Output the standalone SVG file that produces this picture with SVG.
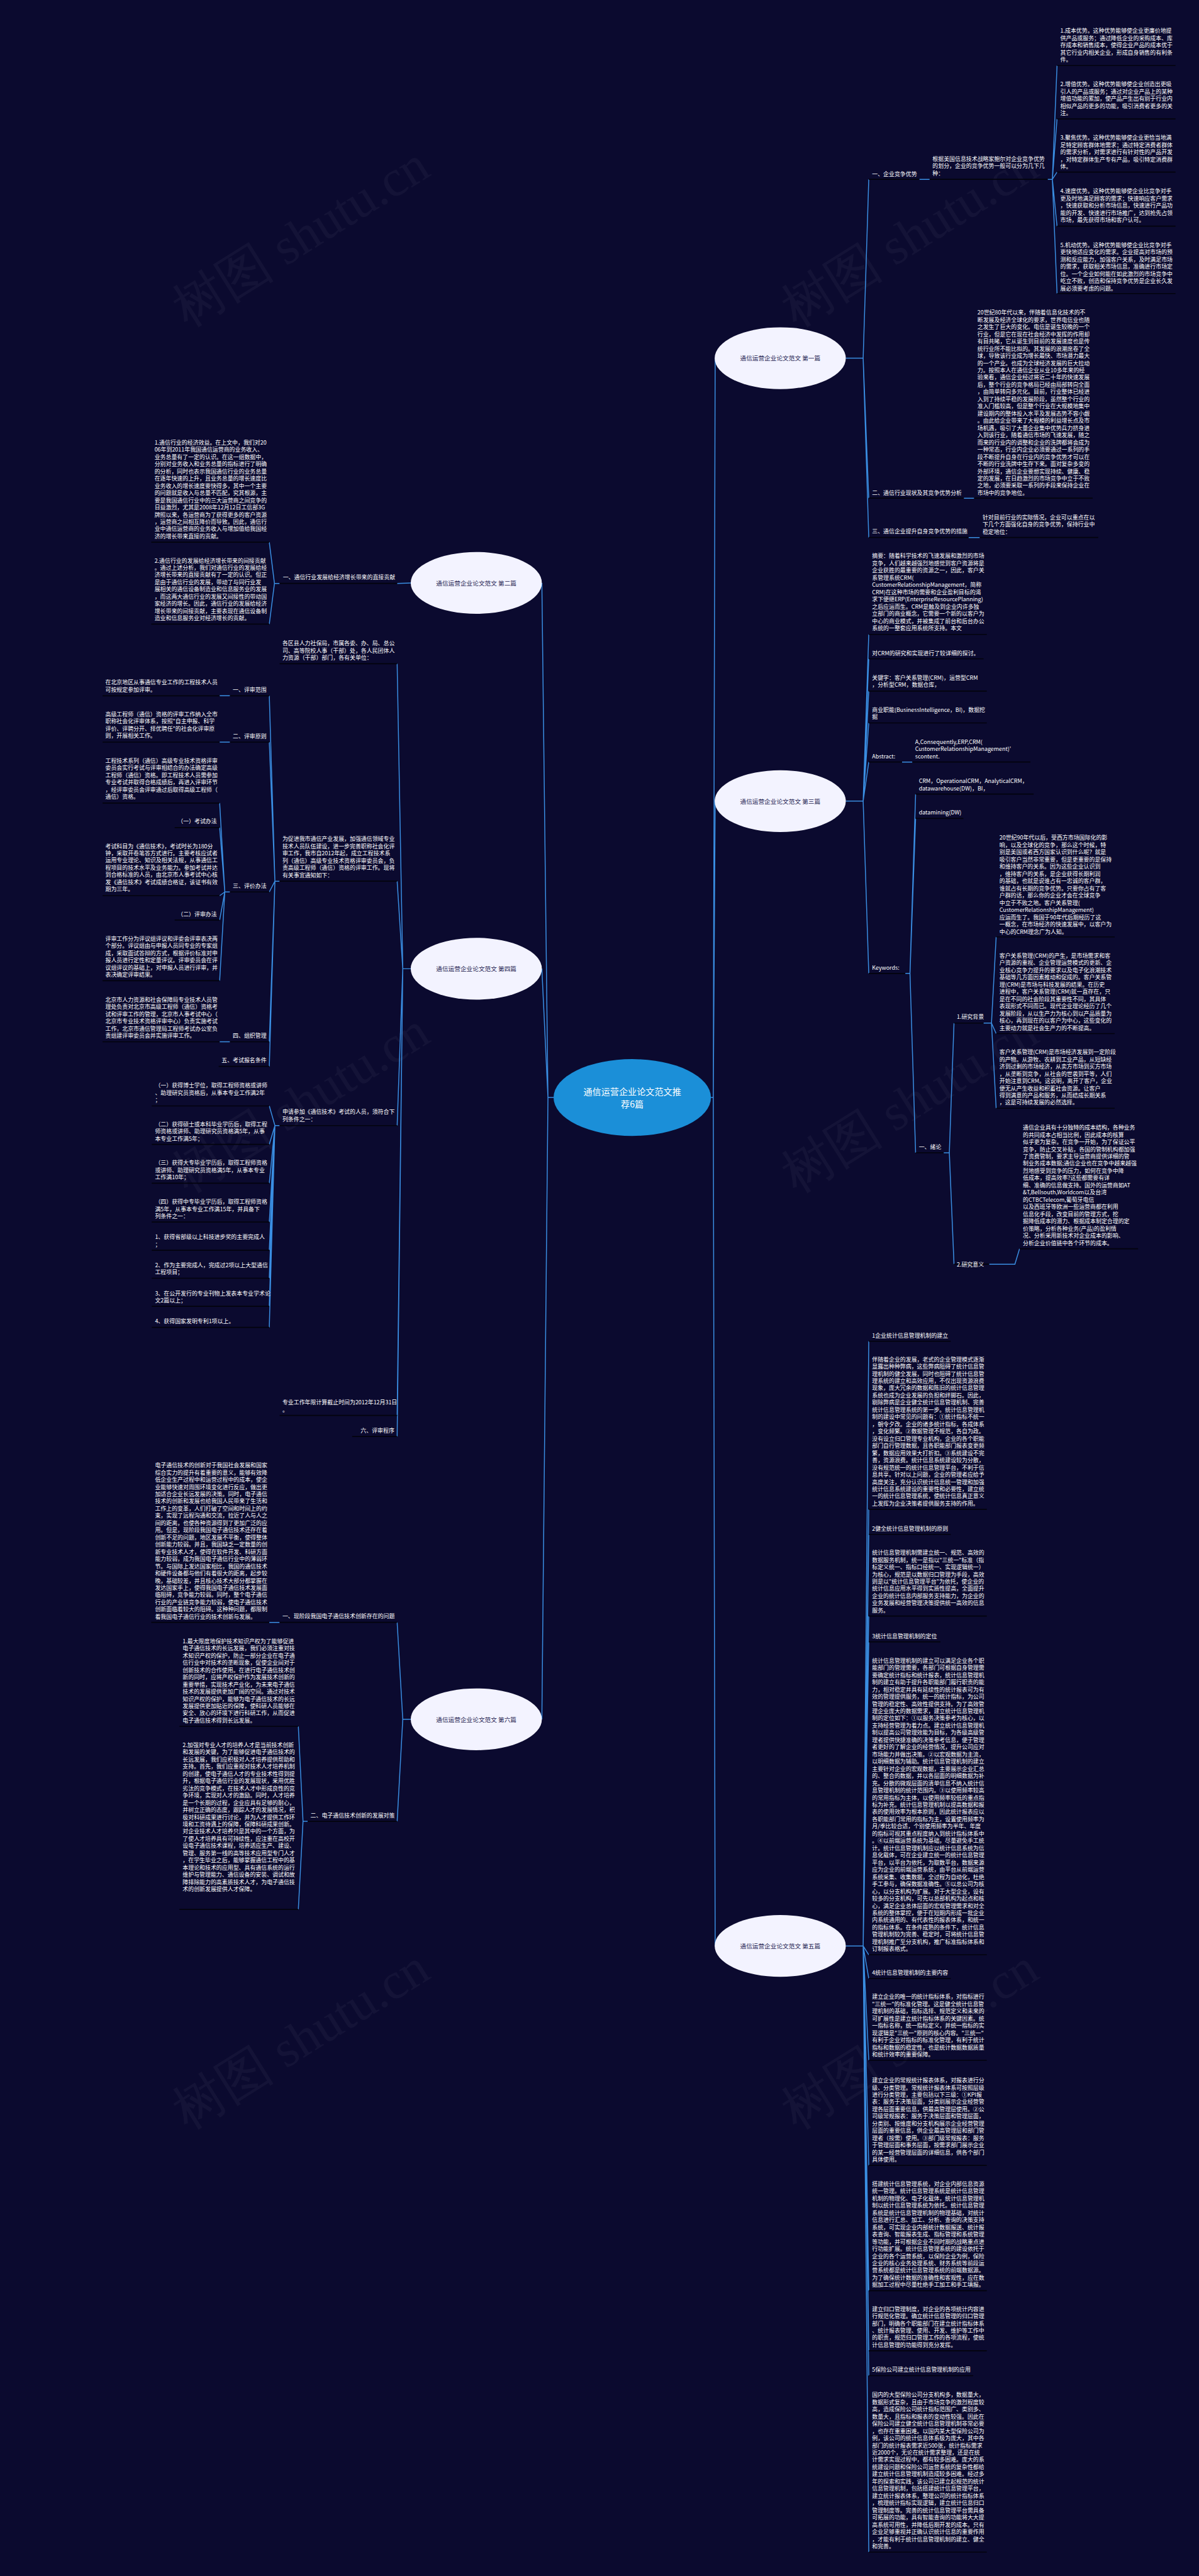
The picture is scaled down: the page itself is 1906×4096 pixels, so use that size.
<svg xmlns="http://www.w3.org/2000/svg" width="1906" height="4096" viewBox="0 0 1906 4096">
<style>
.t{font-family:"Noto Sans CJK SC","Noto Sans",sans-serif;font-size:12px;fill:#ffffff}
.e{text-anchor:end}
.u{stroke:#03030d;stroke-width:2.2;fill:none}
.c{stroke:#3a8ee2;stroke-width:2;fill:none}
.n{fill:#f3f3ff}
.nt{font-family:"Noto Sans CJK SC","Noto Sans",sans-serif;font-size:13px;fill:#1c1a4f;text-anchor:middle}
.wm{font-family:"Liberation Serif",serif;font-size:110px;fill:#ffffff;opacity:0.035}
</style>
<rect width="1906" height="4096" fill="#0b0a2f"/>
<g transform="scale(0.7445)">
<g id="watermarks">
<text class="wm" x="400" y="700" transform="rotate(-32 400 700)">树图 shutu.cn</text>
<text class="wm" x="1700" y="700" transform="rotate(-32 1700 700)">树图 shutu.cn</text>
<text class="wm" x="400" y="2550" transform="rotate(-32 400 2550)">树图 shutu.cn</text>
<text class="wm" x="1700" y="2550" transform="rotate(-32 1700 2550)">树图 shutu.cn</text>
<text class="wm" x="400" y="4550" transform="rotate(-32 400 4550)">树图 shutu.cn</text>
<text class="wm" x="1700" y="4550" transform="rotate(-32 1700 4550)">树图 shutu.cn</text>
</g>
<g id="connectors">
<path class="c" d="M1518,2344 H1523 L1527,765 M1523,2344 L1527,1711 M1523,2344 L1527,4156 M1182,2344 H1170 L1157,1245 M1170,2344 L1157,2069 M1170,2344 L1157,3672"/>
<path class="c" d="M1806,765 H1843 L1855,383 M1843,765 L1855,1064 M1843,765 L1855,1148 M1963,383 H1985 M2237,383 H2247 L2257,140 M2247,383 L2257,254 M2247,383 L2257,367.5 M2247,383 L2257,483 M2247,383 L2257,627 M2058,1064 H2080 M2068,1148 H2092"/>
<path class="c" d="M877,1245 L848,1246 M597,1246 H586 L575,1158 M586,1246 L575,1333"/>
<path class="c" d="M1806,1711 H1843 L1855,1355 M1843,1711 L1855,1407 M1843,1711 L1855,1476 M1843,1711 L1855,1544 M1843,1711 L1855,1627.5 M1843,1711 L1855,2079 M1926,1627.5 H1948 M1933,2079 H1943 L1955,1696 M1943,2079 L1955,1748 M1943,2079 L1955,2462 M2015,2462 H2027 L2037,2185 M2027,2462 L2037,2700 M2100,2185 H2117 L2127,2001 M2117,2185 L2127,2207.5 M2117,2185 L2127,2367 M2112,2700 H2167 L2177,2667"/>
<path class="c" d="M877,2069 H860 L848,1417.5 M860,2069 L848,1882 M860,2069 L848,2404 M860,2069 L848,3023 M860,2069 L848,3068 M597,1882 H587 L575,1486 M587,1882 L575,1585 M587,1882 L575,1905 M587,1882 L575,2225 M587,1882 L575,2277.6 M491,1486 H469 M491,1585 H469 M491,2225 H469 M491,1905 H480 L469,1715 M480,1905 L469,1767.5 M480,1905 L469,1913 M480,1905 L469,1965 M480,1905 L469,2094.5 M597,2404 H587 L575,2362 M587,2404 L575,2444 M587,2404 L575,2527 M587,2404 L575,2610 M587,2404 L575,2670 M587,2404 L575,2730 M587,2404 L575,2790 M587,2404 L575,2835"/>
<path class="c" d="M877,3672 H860 L848,3465 M860,3672 L848,3890 M597,3465 H575 M657,3890 H647 L637,3687 M647,3890 L637,4078"/>
<path class="c" d="M1806,4156 H1843 L1855,2864.5 M1843,4156 L1855,3223.5 M1843,4156 L1855,3277 M1843,4156 L1855,3451.5 M1843,4156 L1855,3506.5 M1843,4156 L1855,4175 M1843,4156 L1855,4225.4 M1843,4156 L1855,4400.3 M1843,4156 L1855,4624.8 M1843,4156 L1855,4892.3 M1843,4156 L1855,5020.7 M1843,4156 L1855,5073.8 M1843,4156 L1855,5450.6"/>
</g>
<g id="underlines">
<path class="u" d="M1855,383 H1963 M1985,383 H2237 M2257,140 H2510 M2257,254 H2510 M2257,367.5 H2510 M2257,483 H2510 M2257,627 H2510 M1855,1064 H2058 M2080,1064 H2333 M1855,1148 H2068 M2092,1148 H2345"/>
<path class="u" d="M597,1246 H848 M323,1158 H575 M323,1333 H575"/>
<path class="u" d="M1855,1355 H2107 M1855,1407 H2100 M1855,1476 H2107 M1855,1544 H2107 M1855,1627.5 H1926 M1948,1627.5 H2200 M1855,2079 H1933 M1955,1696 H2207 M1955,1748 H2057 M1955,2462 H2015 M2037,2185 H2100 M2127,2001 H2380 M2127,2207.5 H2380 M2127,2367 H2380 M2037,2700 H2112 M2177,2667 H2430"/>
<path class="u" d="M597,1417.5 H848 M597,1882 H848 M597,2404 H848 M597,3023 H848 M752,3068 H848 M491,1486 H575 M491,1585 H575 M491,1905 H575 M491,2225 H575 M467,2277.6 H575 M219,1486 H469 M219,1585 H469 M219,2225 H469 M219,1715 H469 M373,1767.5 H469 M219,1913 H469 M373,1965 H469 M219,2094.5 H469 M324,2362 H575 M324,2444 H575 M324,2527 H575 M324,2610 H575 M324,2670 H575 M324,2730 H575 M324,2790 H575 M324,2835 H575"/>
<path class="u" d="M597,3465 H848 M323,3465 H575 M657,3890 H848 M383,3687 H637 M383,4078 H637"/>
<path class="u" d="M1855,2864.5 H2030 M1855,3223.5 H2107 M1855,3277 H2030 M1855,3451.5 H2107 M1855,3506.5 H2008 M1855,4175 H2107 M1855,4225.4 H2030 M1855,4400.3 H2107 M1855,4624.8 H2107 M1855,4892.3 H2107 M1855,5020.7 H2107 M1855,5073.8 H2078 M1855,5450.6 H2107"/>
</g>
<g id="center">
<ellipse cx="1350" cy="2344" rx="168" ry="82" fill="#1b8fd8"/>
<text x="1350" y="2339" font-family="Noto Sans CJK SC,sans-serif" font-size="19" fill="#ffffff" text-anchor="middle">通信运营企业论文范文推</text>
<text x="1350" y="2366" font-family="Noto Sans CJK SC,sans-serif" font-size="19" fill="#ffffff" text-anchor="middle">荐6篇</text>
</g>
<g id="p1"><ellipse class="n" cx="1666" cy="765" rx="140" ry="66"/><text class="nt" x="1666" y="770">通信运营企业论文范文 第一篇</text></g>
<g id="p2"><ellipse class="n" cx="1017" cy="1245" rx="140" ry="66"/><text class="nt" x="1017" y="1250">通信运营企业论文范文 第二篇</text></g>
<g id="p3"><ellipse class="n" cx="1666" cy="1711" rx="140" ry="66"/><text class="nt" x="1666" y="1716">通信运营企业论文范文 第三篇</text></g>
<g id="p4"><ellipse class="n" cx="1017" cy="2069" rx="140" ry="66"/><text class="nt" x="1017" y="2074">通信运营企业论文范文 第四篇</text></g>
<g id="p6"><ellipse class="n" cx="1017" cy="3672" rx="140" ry="66"/><text class="nt" x="1017" y="3677">通信运营企业论文范文 第六篇</text></g>
<g id="p5"><ellipse class="n" cx="1666" cy="4156" rx="140" ry="66"/><text class="nt" x="1666" y="4161">通信运营企业论文范文 第五篇</text></g>

<g id="p1-l1"><text class="t" x="1862" y="375.5">一、企业竞争优势</text></g>
<g id="p1-l1-a"><text class="t" x="1991" y="343.5"><tspan x="1991">根据美国信息技术战略家鲍尔对企业竞争优势</tspan><tspan x="1991" dy="15.4">的划分，企业的竞争优势一般可以分为几下几</tspan><tspan x="1991" dy="15.4">种：</tspan></text></g>
<g id="p1-c1"><text class="t" x="2264" y="70.2"><tspan x="2264">1.成本优势。这种优势能够使企业更廉价地提</tspan><tspan x="2264" dy="15.4">供产品或服务；通过降低企业的采购成本、库</tspan><tspan x="2264" dy="15.4">存成本和销售成本，使得企业产品的成本优于</tspan><tspan x="2264" dy="15.4">其它行业内相关企业，形成自身销售的有利条</tspan><tspan x="2264" dy="15.4">件。</tspan></text></g>
<g id="p1-c2"><text class="t" x="2264" y="184.5"><tspan x="2264">2.增值优势。这种优势能够使企业创造出更吸</tspan><tspan x="2264" dy="15.4">引人的产品或服务；通过对企业产品上的某种</tspan><tspan x="2264" dy="15.4">增值功能的累加，使产品产生出有别于行业内</tspan><tspan x="2264" dy="15.4">相似产品的更多的功能，吸引消费者更多的关</tspan><tspan x="2264" dy="15.4">注。</tspan></text></g>
<g id="p1-c3"><text class="t" x="2264" y="298.5"><tspan x="2264">3.聚焦优势。这种优势能够使企业更恰当地满</tspan><tspan x="2264" dy="15.4">足特定顾客群体地需求；通过特定消费者群体</tspan><tspan x="2264" dy="15.4">的需求分析，对需求进行有针对性的产品开发</tspan><tspan x="2264" dy="15.4">，对特定群体生产专有产品，吸引特定消费群</tspan><tspan x="2264" dy="15.4">体。</tspan></text></g>
<g id="p1-c4"><text class="t" x="2264" y="413"><tspan x="2264">4.速度优势。这种优势能够使企业比竞争对手</tspan><tspan x="2264" dy="15.4">更及时地满足顾客的需求；快速响应客户需求</tspan><tspan x="2264" dy="15.4">，快速获取和分析市场信息，快速进行产品功</tspan><tspan x="2264" dy="15.4">能的开发、快速进行市场推广，达到抢先占领</tspan><tspan x="2264" dy="15.4">市场，最先获得市场和客户认可。</tspan></text></g>
<g id="p1-c5"><text class="t" x="2264" y="527.5"><tspan x="2264">5.机动优势。这种优势能够使企业比竞争对手</tspan><tspan x="2264" dy="15.4">更快地适应变化的需求。企业提高对市场的预</tspan><tspan x="2264" dy="15.4">测和反应能力，加强客户关系，及时满足市场</tspan><tspan x="2264" dy="15.4">的需求，获取相关市场信息，准确进行市场定</tspan><tspan x="2264" dy="15.4">位。一个企业如何能在如此激烈的市场竞争中</tspan><tspan x="2264" dy="15.4">屹立不败，创造和保持竞争优势是企业长久发</tspan><tspan x="2264" dy="15.4">展必须要考虑的问题。</tspan></text></g>
<g id="p1-l2"><text class="t" x="1862" y="1056.5">二、通信行业现状及其竞争优势分析</text></g>
<g id="p1-l2-a"><text class="t" x="2087" y="672"><tspan x="2087">20世纪80年代以来，伴随着信息化技术的不</tspan><tspan x="2087" dy="15.4">断发展及经济全球化的要求，世界电信业也随</tspan><tspan x="2087" dy="15.4">之发生了巨大的变化。电信是诞生较晚的一个</tspan><tspan x="2087" dy="15.4">行业，但是它在现在社会经济中发挥的作用却</tspan><tspan x="2087" dy="15.4">有目共睹，它从诞生到目前的发展速度也是传</tspan><tspan x="2087" dy="15.4">统行业所不能比拟的。其发展的浪潮席卷了全</tspan><tspan x="2087" dy="15.4">球，导致该行业成为增长最快、市场潜力最大</tspan><tspan x="2087" dy="15.4">的一个产业。也成为全球经济发展的巨大拉动</tspan><tspan x="2087" dy="15.4">力。按照本人在通信企业从业10多年来的经</tspan><tspan x="2087" dy="15.4">验来看，通信企业经过将近二十年的快速发展</tspan><tspan x="2087" dy="15.4">后，整个行业的竞争格局已经由局部转向全面</tspan><tspan x="2087" dy="15.4">，由简单转向多元化。目前，行业整体已经进</tspan><tspan x="2087" dy="15.4">入到了持续平稳的发展阶段，虽然整个行业的</tspan><tspan x="2087" dy="15.4">准入门槛较高，但是整个行业在大规模地集中</tspan><tspan x="2087" dy="15.4">建设期内的整体投入水平及发展态势不容小觑</tspan><tspan x="2087" dy="15.4">。由此给企业带来了大规模的利益增长点及市</tspan><tspan x="2087" dy="15.4">场机遇，吸引了大量企业集中优势兵力挤身进</tspan><tspan x="2087" dy="15.4">入到该行业，随着通信市场的飞速发展，随之</tspan><tspan x="2087" dy="15.4">而来的行业内的调整和企业的洗牌都将会成为</tspan><tspan x="2087" dy="15.4">一种常态，行业内企业必须要通过一系列的手</tspan><tspan x="2087" dy="15.4">段不断提升自身在行业内的竞争优势才可以在</tspan><tspan x="2087" dy="15.4">不断的行业洗牌中生存下来。面对复杂多变的</tspan><tspan x="2087" dy="15.4">外部环境，通信企业要想实现持续、健康、稳</tspan><tspan x="2087" dy="15.4">定的发展，在日趋激烈的市场竞争中立于不败</tspan><tspan x="2087" dy="15.4">之地，必须要采取一系列的手段来保持企业在</tspan><tspan x="2087" dy="15.4">市场中的竞争地位。</tspan></text></g>
<g id="p1-l3"><text class="t" x="1862" y="1139.5">三、通信企业提升自身竞争优势的措施</text></g>
<g id="p1-l3-a"><text class="t" x="2098" y="1109.5"><tspan x="2098">针对目前行业的实际情况，企业可以重点在以</tspan><tspan x="2098" dy="15.4">下几个方面强化自身的竞争优势，保持行业中</tspan><tspan x="2098" dy="15.4">稳定地位：</tspan></text></g>

<g id="p2-l1"><text class="t" x="604" y="1237.5">一、通信行业发展给经济增长带来的直接贡献</text></g>
<g id="p2-c1"><text class="t" x="330" y="949.5"><tspan x="330">1.通信行业的经济效益。在上文中，我们对20</tspan><tspan x="330" dy="15.4">06年到2011年我国通信运营商的业务收入、</tspan><tspan x="330" dy="15.4">业务总量有了一定的认识。在这一组数据中，</tspan><tspan x="330" dy="15.4">分别对业务收入和业务总量的指标进行了明确</tspan><tspan x="330" dy="15.4">的分析，同时也表示我国通信行业的业务总量</tspan><tspan x="330" dy="15.4">在逐年快速的上升，且业务总量的增长速度比</tspan><tspan x="330" dy="15.4">业务收入的增长速度要快得多，其中一个主要</tspan><tspan x="330" dy="15.4">的问题就是收入与总量不匹配，究其根源，主</tspan><tspan x="330" dy="15.4">要是我国通信行业中的三大运营商之间竞争的</tspan><tspan x="330" dy="15.4">日益激烈，尤其是2008年12月12日工信部3G</tspan><tspan x="330" dy="15.4">牌照以来，各运营商为了获得更多的客户资源</tspan><tspan x="330" dy="15.4">，运营商之间相互降价而导致。因此，通信行</tspan><tspan x="330" dy="15.4">业中通信运营商的业务收入与增加值给我国经</tspan><tspan x="330" dy="15.4">济的增长带来直接的贡献。</tspan></text></g>
<g id="p2-c2"><text class="t" x="330" y="1201.5"><tspan x="330">2.通信行业的发展给经济增长带来的间接贡献</tspan><tspan x="330" dy="15.4">。通过上述分析，我们对通信行业的发展给经</tspan><tspan x="330" dy="15.4">济增长带来的直接贡献有了一定的认识。但正</tspan><tspan x="330" dy="15.4">是由于通信行业的发展，带动了与同行业发</tspan><tspan x="330" dy="15.4">展相关的通信设备制造业和信息服务业的发展</tspan><tspan x="330" dy="15.4">，而这两大通信行业的发展又间接性的带动国</tspan><tspan x="330" dy="15.4">家经济的增长。因此，通信行业的发展给经济</tspan><tspan x="330" dy="15.4">增长带来的间接贡献，主要表现在通信设备制</tspan><tspan x="330" dy="15.4">造业和信息服务业对经济增长的贡献。</tspan></text></g>

<g id="p3-c1"><text class="t" x="1862" y="1192"><tspan x="1862">摘要：随着科学技术的飞速发展和激烈的市场</tspan><tspan x="1862" dy="15.4">竞争，人们越来越强烈地感觉到客户资源将是</tspan><tspan x="1862" dy="15.4">企业获胜的最重要的资源之一，因此，客户关</tspan><tspan x="1862" dy="15.4">系管理系统CRM(</tspan><tspan x="1862" dy="15.4">CustomerRelationshipManagement，简称</tspan><tspan x="1862" dy="15.4">CRM)在这种市场的需要和企业盈利目标的渴</tspan><tspan x="1862" dy="15.4">求下便继ERP(EnterpriseResourcePlanning)</tspan><tspan x="1862" dy="15.4">之后应运而生。CRM是触及到企业内许多独</tspan><tspan x="1862" dy="15.4">立部门的商业概念，它需要一个新的以客户为</tspan><tspan x="1862" dy="15.4">中心的商业模式，并被集成了前台和后台办公</tspan><tspan x="1862" dy="15.4">系统的一整套应用系统所支持。本文</tspan></text></g>
<g id="p3-c2"><text class="t" x="1862" y="1399.5">对CRM的研究和实现进行了较详细的探讨。</text></g>
<g id="p3-c3"><text class="t" x="1862" y="1452"><tspan x="1862">关键字：客户关系管理(CRM)，运营型CRM</tspan><tspan x="1862" dy="15.4">，分析型CRM，数据仓库，</tspan></text></g>
<g id="p3-c4"><text class="t" x="1862" y="1520.5"><tspan x="1862">商业职能(BusinessIntelligence，BI)，数据挖</tspan><tspan x="1862" dy="15.4">掘</tspan></text></g>
<g id="p3-c5"><text class="t" x="1862" y="1619.5">Abstract:</text></g>
<g id="p3-c5-a"><text class="t" x="1954" y="1588.5"><tspan x="1954">A,Consequently,ERP,CRM(</tspan><tspan x="1954" dy="15.4">CustomerRelationshipManagement)'</tspan><tspan x="1954" dy="15.4">scontent.</tspan></text></g>
<g id="p3-c6"><text class="t" x="1862" y="2071.5">Keywords:</text></g>
<g id="p3-c6-a"><text class="t" x="1962" y="1672.5"><tspan x="1962">CRM，OperationalCRM，AnalyticalCRM，</tspan><tspan x="1962" dy="15.4">datawarehouse(DW)，BI，</tspan></text></g>
<g id="p3-c6-b"><text class="t" x="1962" y="1739.5">datamining(DW)</text></g>
<g id="p3-c6-c"><text class="t" x="1962" y="2453.5">一、绪论</text></g>
<g id="p3-bg"><text class="t" x="2043" y="2176.5">1.研究背景</text></g>
<g id="p3-bg-a"><text class="t" x="2134" y="1793.8"><tspan x="2134">20世纪90年代以后，受西方市场国际化的影</tspan><tspan x="2134" dy="15.4">响，以及全球化的竞争，那么这个时候，特</tspan><tspan x="2134" dy="15.4">别是美国或者西方国家认识到什么呢？就是</tspan><tspan x="2134" dy="15.4">吸引客户当然非常重要，但是更重要的是保持</tspan><tspan x="2134" dy="15.4">和维持客户的关系。因为这些企业认识到</tspan><tspan x="2134" dy="15.4">，维持客户的关系，是企业获得长期利润</tspan><tspan x="2134" dy="15.4">的基础，也就是说谁占有一忠诚的客户群，</tspan><tspan x="2134" dy="15.4">谁就占有长期的竞争优势。只要你占有了客</tspan><tspan x="2134" dy="15.4">户群的话，那么你的企业才会在全球竞争</tspan><tspan x="2134" dy="15.4">中立于不败之地。客户关系管理(</tspan><tspan x="2134" dy="15.4">CustomerRelationshipManagement)</tspan><tspan x="2134" dy="15.4">应运而生了。我国于90年代后期经历了这</tspan><tspan x="2134" dy="15.4">一概念，在市场经济的快速发展中，以客户为</tspan><tspan x="2134" dy="15.4">中心的CRM理念广为人知。</tspan></text></g>
<g id="p3-bg-b"><text class="t" x="2134" y="2045.5"><tspan x="2134">客户关系管理(CRM)的产生，是市场需求和客</tspan><tspan x="2134" dy="15.4">户资源的重视、企业管理运营模式的更新、企</tspan><tspan x="2134" dy="15.4">业核心竞争力提升的要求以及电子化浪潮技术</tspan><tspan x="2134" dy="15.4">基础等几方面因素推动和促成的。客户关系管</tspan><tspan x="2134" dy="15.4">理(CRM)是市场与科技发展的结果。在历史</tspan><tspan x="2134" dy="15.4">进程中，客户关系管理(CRM)就一直存在，只</tspan><tspan x="2134" dy="15.4">是在不同的社会阶段其重要性不同，其具体</tspan><tspan x="2134" dy="15.4">表现形式不同而已。现代企业理论经历了几个</tspan><tspan x="2134" dy="15.4">发展阶段，从以生产力为核心到以产品质量为</tspan><tspan x="2134" dy="15.4">核心，再到现在的以客户为中心，这些变化的</tspan><tspan x="2134" dy="15.4">主要动力就是社会生产力的不断提高。</tspan></text></g>
<g id="p3-bg-c"><text class="t" x="2134" y="2251.5"><tspan x="2134">客户关系管理(CRM)是市场经济发展到一定阶段</tspan><tspan x="2134" dy="15.4">的产物。从游牧、农耕到工业产品，从短缺经</tspan><tspan x="2134" dy="15.4">济到过剩的市场经济，从卖方市场到买方市场</tspan><tspan x="2134" dy="15.4">，从垄断到竞争，从社会的世袭到平等，人们</tspan><tspan x="2134" dy="15.4">开始注意到CRM。这说明，离开了客户，企业</tspan><tspan x="2134" dy="15.4">便无从产生收益和积蓄社会资源。让客户</tspan><tspan x="2134" dy="15.4">得到满意的产品和服务，从而结成长期关系</tspan><tspan x="2134" dy="15.4">，这是可持续发展的必然选择。</tspan></text></g>
<g id="p3-yy"><text class="t" x="2043" y="2704.5">2.研究意义</text></g>
<g id="p3-yy-a"><text class="t" x="2184" y="2412.5"><tspan x="2184">通信企业具有十分独特的成本结构，各种业务</tspan><tspan x="2184" dy="15.4">的共同成本占相当比例，因此成本的核算</tspan><tspan x="2184" dy="15.4">似乎更为复杂。在竞争一开始，为了保证公平</tspan><tspan x="2184" dy="15.4">竞争，防止交叉补贴，各国的管制机构都加强</tspan><tspan x="2184" dy="15.4">了资费管制，要求主导运营商提供详细的管</tspan><tspan x="2184" dy="15.4">制业务成本数据;通信企业也在竞争中越来越强</tspan><tspan x="2184" dy="15.4">烈地感受到竞争的压力，如何在竞争中降</tspan><tspan x="2184" dy="15.4">低成本，提高效率?这些都需要有详</tspan><tspan x="2184" dy="15.4">细、准确的信息做支持。国外的运营商如AT</tspan><tspan x="2184" dy="15.4">&amp;T,Bellsouth,Worldcom以及台湾</tspan><tspan x="2184" dy="15.4">的CTBCTelecom,葡萄牙电信</tspan><tspan x="2184" dy="15.4">以及西班牙等欧洲一些运营商都在利用</tspan><tspan x="2184" dy="15.4">信息化手段，改变目前的管理方式，挖</tspan><tspan x="2184" dy="15.4">掘降低成本的潜力、根据成本制定合理的定</tspan><tspan x="2184" dy="15.4">价策略，分析各种业务(产品)的盈利情</tspan><tspan x="2184" dy="15.4">况、分析采用新技术对企业成本的影响、</tspan><tspan x="2184" dy="15.4">分析企业价值链中各个环节的成本。</tspan></text></g>

<g id="p4-c1"><text class="t" x="603" y="1378.5"><tspan x="603">各区县人力社保局，市属各委、办、局、总公</tspan><tspan x="603" dy="15.4">司、高等院校人事（干部）处，各人民团体人</tspan><tspan x="603" dy="15.4">力资源（干部）部门，各有关单位：</tspan></text></g>
<g id="p4-c2"><text class="t" x="603" y="1796.5"><tspan x="603">为促进我市通信产业发展，加强通信领域专业</tspan><tspan x="603" dy="15.4">技术人员队伍建设，进一步完善职称社会化评</tspan><tspan x="603" dy="15.4">审工作，我市自2012年起，成立工程技术系</tspan><tspan x="603" dy="15.4">列（通信）高级专业技术资格评审委员会，负</tspan><tspan x="603" dy="15.4">责高级工程师（通信）资格的评审工作。现将</tspan><tspan x="603" dy="15.4">有关事宜通知如下：</tspan></text></g>
<g id="p4-l1"><text class="t e" x="569" y="1477.5">一、评审范围</text></g>
<g id="p4-l1-a"><text class="t" x="225" y="1462"><tspan x="225">在北京地区从事通信专业工作的工程技术人员</tspan><tspan x="225" dy="15.4">可按规定参加评审。</tspan></text></g>
<g id="p4-l2"><text class="t e" x="569" y="1576.5">二、评审原则</text></g>
<g id="p4-l2-a"><text class="t" x="225" y="1529.5"><tspan x="225">高级工程师（通信）资格的评审工作纳入全市</tspan><tspan x="225" dy="15.4">职称社会化评审体系，按照"自主申报、科学</tspan><tspan x="225" dy="15.4">评价、评聘分开、择优聘任"的社会化评审原</tspan><tspan x="225" dy="15.4">则，开展相关工作。</tspan></text></g>
<g id="p4-l3"><text class="t e" x="569" y="1896">三、评价办法</text></g>
<g id="p4-l3-a"><text class="t" x="225" y="1629"><tspan x="225">工程技术系列（通信）高级专业技术资格评审</tspan><tspan x="225" dy="15.4">委员会实行考试与评审相结合的办法确定高级</tspan><tspan x="225" dy="15.4">工程师（通信）资格。即工程技术人员需参加</tspan><tspan x="225" dy="15.4">专业考试并取得合格成绩后，再进入评审环节</tspan><tspan x="225" dy="15.4">，经评审委员会评审通过后取得高级工程师（</tspan><tspan x="225" dy="15.4">通信）资格。</tspan></text></g>
<g id="p4-l3-b"><text class="t e" x="463" y="1758.5">（一）考试办法</text></g>
<g id="p4-l3-c"><text class="t" x="225" y="1811.3"><tspan x="225">考试科目为《通信技术》，考试时长为180分</tspan><tspan x="225" dy="15.4">钟，采取开卷笔答方式进行。主要考核应试者</tspan><tspan x="225" dy="15.4">运用专业理论、知识及相关法规，从事通信工</tspan><tspan x="225" dy="15.4">程项目的技术水平及业务能力。参加考试并达</tspan><tspan x="225" dy="15.4">到合格标准的人员，由北京市人事考试中心核</tspan><tspan x="225" dy="15.4">发《通信技术》考试成绩合格证，该证书有效</tspan><tspan x="225" dy="15.4">期为三年。</tspan></text></g>
<g id="p4-l3-d"><text class="t e" x="463" y="1957">（二）评审办法</text></g>
<g id="p4-l3-e"><text class="t" x="225" y="2009.3"><tspan x="225">评审工作分为评议组评议和评委会评审表决两</tspan><tspan x="225" dy="15.4">个部分。评议组由与申报人员同专业的专家组</tspan><tspan x="225" dy="15.4">成，采取面试答辩的方式，根据评价标准对申</tspan><tspan x="225" dy="15.4">报人员进行定性和定量评议。评审委员会在评</tspan><tspan x="225" dy="15.4">议组评议的基础上，对申报人员进行评审，并</tspan><tspan x="225" dy="15.4">表决确定评审结果。</tspan></text></g>
<g id="p4-l4"><text class="t e" x="569" y="2216.5">四、组织管理</text></g>
<g id="p4-l4-a"><text class="t" x="225" y="2139.5"><tspan x="225">北京市人力资源和社会保障局专业技术人员管</tspan><tspan x="225" dy="15.4">理处负责对北京市高级工程师（通信）资格考</tspan><tspan x="225" dy="15.4">试和评审工作的管理，北京市人事考试中心（</tspan><tspan x="225" dy="15.4">北京市专业技术资格评审中心）负责实施考试</tspan><tspan x="225" dy="15.4">工作，北京市通信管理局工程师考试办公室负</tspan><tspan x="225" dy="15.4">责组建评审委员会并实施评审工作。</tspan></text></g>
<g id="p4-l5"><text class="t e" x="569" y="2269">五、考试报名条件</text></g>
<g id="p4-c3"><text class="t" x="603" y="2379.3"><tspan x="603">申请参加《通信技术》考试的人员，须符合下</tspan><tspan x="603" dy="15.4">列条件之一：</tspan></text></g>
<g id="p4-c3-a"><text class="t" x="331" y="2322.5"><tspan x="331">（一）获得博士学位，取得工程师资格或讲师</tspan><tspan x="331" dy="15.4">、助理研究员资格后，从事本专业工作满2年</tspan><tspan x="331" dy="15.4">；</tspan></text></g>
<g id="p4-c3-b"><text class="t" x="331" y="2405.2"><tspan x="331">（二）获得硕士或本科毕业学历后，取得工程</tspan><tspan x="331" dy="15.4">师资格或讲师、助理研究员资格满5年，从事</tspan><tspan x="331" dy="15.4">本专业工作满5年；</tspan></text></g>
<g id="p4-c3-c"><text class="t" x="331" y="2488.2"><tspan x="331">（三）获得大专毕业学历后，取得工程师资格</tspan><tspan x="331" dy="15.4">或讲师、助理研究员资格满5年，从事本专业</tspan><tspan x="331" dy="15.4">工作满10年；</tspan></text></g>
<g id="p4-c3-d"><text class="t" x="331" y="2571.2"><tspan x="331">（四）获得中专毕业学历后，取得工程师资格</tspan><tspan x="331" dy="15.4">满5年，从事本专业工作满15年，并具备下</tspan><tspan x="331" dy="15.4">列条件之一：</tspan></text></g>
<g id="p4-c3-e"><text class="t" x="331" y="2646.5"><tspan x="331">1、获得省部级以上科技进步奖的主要完成人</tspan><tspan x="331" dy="15.4">；</tspan></text></g>
<g id="p4-c3-f"><text class="t" x="331" y="2706.5"><tspan x="331">2、作为主要完成人，完成过2项以上大型通信</tspan><tspan x="331" dy="15.4">工程项目；</tspan></text></g>
<g id="p4-c3-g"><text class="t" x="331" y="2766.5"><tspan x="331">3、在公开发行的专业刊物上发表本专业学术论</tspan><tspan x="331" dy="15.4">文2篇以上；</tspan></text></g>
<g id="p4-c3-h"><text class="t" x="331" y="2826.5">4、获得国家发明专利1项以上。</text></g>
<g id="p4-c4"><text class="t" x="603" y="2999.5"><tspan x="603">专业工作年限计算截止时间为2012年12月31日</tspan><tspan x="603" dy="15.4">。</tspan></text></g>
<g id="p4-c6"><text class="t e" x="842" y="3060">六、评审程序</text></g>

<g id="p6-l1"><text class="t" x="603" y="3456.5">一、现阶段我国电子通信技术创新存在的问题</text></g>
<g id="p6-l1-a"><text class="t" x="331" y="3133.8"><tspan x="331">电子通信技术的创新对于我国社会发展和国家</tspan><tspan x="331" dy="15.4">综合实力的提升有着重要的意义，能够有效降</tspan><tspan x="331" dy="15.4">低企业生产过程中和运营过程中的成本，使企</tspan><tspan x="331" dy="15.4">业能够快速对周围环境变化进行反应，做出更</tspan><tspan x="331" dy="15.4">加适合企业长远发展的决策。同时，电子通信</tspan><tspan x="331" dy="15.4">技术的创新和发展也给我国人民带来了生活和</tspan><tspan x="331" dy="15.4">工作上的变革，人们打破了空间和时间上的约</tspan><tspan x="331" dy="15.4">束，实现了远程沟通和交流，拉近了人与人之</tspan><tspan x="331" dy="15.4">间的距离，也使各种资源得到了更加广泛的应</tspan><tspan x="331" dy="15.4">用。但是，现阶段我国电子通信技术还存在着</tspan><tspan x="331" dy="15.4">创新不足的问题，地区发展不平衡，使得整体</tspan><tspan x="331" dy="15.4">创新能力较弱。并且，我国缺乏一定数量的创</tspan><tspan x="331" dy="15.4">新专业技术人才，使得在软件开发、科研方面</tspan><tspan x="331" dy="15.4">能力较弱，成为我国电子通信行业中的薄弱环</tspan><tspan x="331" dy="15.4">节。与国际上发达国家相比，我国的通信技术</tspan><tspan x="331" dy="15.4">和硬件设备都与他们有着很大的距离，起步较</tspan><tspan x="331" dy="15.4">晚，基础较差，并且核心技术大部分都掌握在</tspan><tspan x="331" dy="15.4">发达国家手上，使得我国电子通信技术发展面</tspan><tspan x="331" dy="15.4">临阻碍，竞争能力较弱。同时，整个电子通信</tspan><tspan x="331" dy="15.4">行业的产业链竞争能力较弱，使电子通信技术</tspan><tspan x="331" dy="15.4">创新面临着较大的阻碍。这种种问题，都限制</tspan><tspan x="331" dy="15.4">着我国电子通信行业的技术创新与发展。</tspan></text></g>
<g id="p6-l2"><text class="t" x="663" y="3882.2">二、电子通信技术创新的发展对策</text></g>
<g id="p6-l2-a"><text class="t" x="390" y="3509.5"><tspan x="390">1.最大限度地保护技术知识产权为了能够促进</tspan><tspan x="390" dy="15.4">电子通信技术的长远发展，我们必须注重对技</tspan><tspan x="390" dy="15.4">术知识产权的保护，防止一部分企业在电子通</tspan><tspan x="390" dy="15.4">信行业中对技术的垄断现象，促使企业间对于</tspan><tspan x="390" dy="15.4">创新技术的合作使用。在进行电子通信技术创</tspan><tspan x="390" dy="15.4">新的同时，应将产权保护作为发展技术创新的</tspan><tspan x="390" dy="15.4">重要举措，实现技术产业化，为未来电子通信</tspan><tspan x="390" dy="15.4">技术的发展提供更加广阔的空间。通过对技术</tspan><tspan x="390" dy="15.4">知识产权的保护，能够为电子通信技术的长远</tspan><tspan x="390" dy="15.4">发展提供更加贴近的保障，使科研人员能够在</tspan><tspan x="390" dy="15.4">安全、放心的环境下进行科研工作，从而促进</tspan><tspan x="390" dy="15.4">电子通信技术得到长远发展。</tspan></text></g>
<g id="p6-l2-b"><text class="t" x="390" y="3731.2"><tspan x="390">2.加强对专业人才的培养人才是当前技术创新</tspan><tspan x="390" dy="15.4">和发展的关键，为了能够促进电子通信技术的</tspan><tspan x="390" dy="15.4">长远发展，我们应积极对人才培养提供帮助和</tspan><tspan x="390" dy="15.4">支持。首先，我们应重视对技术人才培养机制</tspan><tspan x="390" dy="15.4">的创建，使电子通信人才的专业技术性得到提</tspan><tspan x="390" dy="15.4">升，根据电子通信行业的发展现状，采用优胜</tspan><tspan x="390" dy="15.4">劣汰的竞争模式，在技术人才中形成良性的竞</tspan><tspan x="390" dy="15.4">争环境，实现对人才的激励。同时，人才培养</tspan><tspan x="390" dy="15.4">是一个长期的过程，企业应具有足够的耐心，</tspan><tspan x="390" dy="15.4">并树立正确的态度，跟踪人才的发展情况，积</tspan><tspan x="390" dy="15.4">极对科研成果进行讨论，并为人才提供工作环</tspan><tspan x="390" dy="15.4">境和工资待遇上的保障，保障科研成果创新。</tspan><tspan x="390" dy="15.4">对企业技术人才培养只是其中的一个方面，为</tspan><tspan x="390" dy="15.4">了使人才培养具有可持续性，应注重在高校开</tspan><tspan x="390" dy="15.4">设电子通信技术课程，培养适应生产、建设、</tspan><tspan x="390" dy="15.4">管理、服务第一线的高等技术应用型专门人才</tspan><tspan x="390" dy="15.4">，在学生毕业之后，能够掌握通信工程中的基</tspan><tspan x="390" dy="15.4">本理论和技术的应用型、具有通信系统的运行</tspan><tspan x="390" dy="15.4">维护与管理能力、通信设备的安装、调试和故</tspan><tspan x="390" dy="15.4">障排除能力的高素质技术人才，为电子通信技</tspan><tspan x="390" dy="15.4">术的创新发展提供人才保障。</tspan></text></g>

<g id="p5-c1"><text class="t" x="1862" y="2856.5">1企业统计信息管理机制的建立</text></g>
<g id="p5-c2"><text class="t" x="1862" y="2907.5"><tspan x="1862">伴随着企业的发展，老式的企业管理模式逐渐</tspan><tspan x="1862" dy="15.4">显露出种种弊病，这些弊病阻碍了统计信息管</tspan><tspan x="1862" dy="15.4">理机制的健全发展，同时也阻碍了统计信息管</tspan><tspan x="1862" dy="15.4">理系统的建立和高效应用，不仅出现资源浪费</tspan><tspan x="1862" dy="15.4">现象，庞大冗余的数据和陈旧的统计信息管理</tspan><tspan x="1862" dy="15.4">系统也成为企业发展的负担和绊脚石。因此，</tspan><tspan x="1862" dy="15.4">剔除弊病是企业健全统计信息管理机制、完善</tspan><tspan x="1862" dy="15.4">统计信息管理系统的第一步。统计信息管理机</tspan><tspan x="1862" dy="15.4">制的建设中常见的问题有：①统计指标不统一</tspan><tspan x="1862" dy="15.4">，朝令夕改。企业的诸多统计指标，各成体系</tspan><tspan x="1862" dy="15.4">，变化频繁。②数据管理不规范，各自为政。</tspan><tspan x="1862" dy="15.4">没有设立归口管理专业机构，企业的各个职能</tspan><tspan x="1862" dy="15.4">部门自行管理数据，且各职能部门报表变更频</tspan><tspan x="1862" dy="15.4">繁，数据应用效果大打折扣。③系统建设不完</tspan><tspan x="1862" dy="15.4">善，资源浪费。统计信息系统建设较为分散，</tspan><tspan x="1862" dy="15.4">没有规范统一的统计信息管理平台，不利于信</tspan><tspan x="1862" dy="15.4">息共享。针对以上问题，企业的管理者应给予</tspan><tspan x="1862" dy="15.4">高度关注，充分认识统计信息统一管理和加强</tspan><tspan x="1862" dy="15.4">统计信息系统建设的重要性和必要性，建立统</tspan><tspan x="1862" dy="15.4">一的统计信息管理系统，使统计信息真正意义</tspan><tspan x="1862" dy="15.4">上发挥为企业决策者提供服务支持的作用。</tspan></text></g>
<g id="p5-c3"><text class="t" x="1862" y="3269">2健全统计信息管理机制的原则</text></g>
<g id="p5-c4"><text class="t" x="1862" y="3320.5"><tspan x="1862">统计信息管理机制需建立统一、规范、高效的</tspan><tspan x="1862" dy="15.4">数据服务机制，统一是指以"三统一"标准（指</tspan><tspan x="1862" dy="15.4">标定义统一、指标口径统一、实现逻辑统一）</tspan><tspan x="1862" dy="15.4">为核心，规范是以数据归口管理为手段，高效</tspan><tspan x="1862" dy="15.4">则是以"统计信息管理平台"为依托，使企业的</tspan><tspan x="1862" dy="15.4">统计信息应用水平得到实质性提高，全面提升</tspan><tspan x="1862" dy="15.4">企业的统计信息内部服务支持能力，为企业的</tspan><tspan x="1862" dy="15.4">业务发展和经营管理决策提供统一高效的信息</tspan><tspan x="1862" dy="15.4">服务。</tspan></text></g>
<g id="p5-c5"><text class="t" x="1862" y="3498.5">3统计信息管理机制的定位</text></g>
<g id="p5-c6"><text class="t" x="1862" y="3551"><tspan x="1862">统计信息管理机制的建立可以满足企业各个职</tspan><tspan x="1862" dy="15.4">能部门的管理需要，各部门可根据自身管理需</tspan><tspan x="1862" dy="15.4">要确定统计指标和统计报表，统计信息管理机</tspan><tspan x="1862" dy="15.4">制的建立有助于提升各职能部门履行职责的能</tspan><tspan x="1862" dy="15.4">力，相对稳定并具有延续性的统计报表可为有</tspan><tspan x="1862" dy="15.4">效的管理提供服务，统一的统计指标，为公司</tspan><tspan x="1862" dy="15.4">管理的稳定性、高效性提供支持。为了高效管</tspan><tspan x="1862" dy="15.4">理企业庞大的数据需求，建立统计信息管理机</tspan><tspan x="1862" dy="15.4">制的定位如下：①以服务决策参考为核心，以</tspan><tspan x="1862" dy="15.4">支持经营管理为着力点。建立统计信息管理机</tspan><tspan x="1862" dy="15.4">制以提高公司管理效能为目标，为各级高级管</tspan><tspan x="1862" dy="15.4">理者提供快捷准确的决策参考信息，便于管理</tspan><tspan x="1862" dy="15.4">者更好的了解企业的经营情况，提升公司应对</tspan><tspan x="1862" dy="15.4">市场能力并做出决策。②以宏观数据为主流，</tspan><tspan x="1862" dy="15.4">以明细数据为辅助。统计信息管理机制的建立</tspan><tspan x="1862" dy="15.4">主要针对企业的宏观数据，主要展示企业汇总</tspan><tspan x="1862" dy="15.4">的、整合的数据，并以各层面的明细数据为补</tspan><tspan x="1862" dy="15.4">充。分散的微观层面的清单信息不纳入统计信</tspan><tspan x="1862" dy="15.4">息管理机制的统计范围内。③以使用频率较高</tspan><tspan x="1862" dy="15.4">的常用指标为主体，以使用频率较低的重点指</tspan><tspan x="1862" dy="15.4">标为补充。统计信息管理机制以提高数据和报</tspan><tspan x="1862" dy="15.4">表的使用效率为根本原则，因此统计报表应以</tspan><tspan x="1862" dy="15.4">各职能部门常用的指标为主，设置使用频率为</tspan><tspan x="1862" dy="15.4">月/季比较合适，个别使用频率为半年、年度</tspan><tspan x="1862" dy="15.4">的指标可视其重点程度纳入到统计指标体系中</tspan><tspan x="1862" dy="15.4">。④以前端运营系统为基础，尽量避免手工统</tspan><tspan x="1862" dy="15.4">计。统计信息管理机制应以统计信息系统为信</tspan><tspan x="1862" dy="15.4">息化载体，可在企业建立统一的统计信息管理</tspan><tspan x="1862" dy="15.4">平台，以平台为依托，为取数平台，数据来源</tspan><tspan x="1862" dy="15.4">应为企业的前端运营系统，由平台从前端运营</tspan><tspan x="1862" dy="15.4">系统采集、收集数据，全过程为自动化，杜绝</tspan><tspan x="1862" dy="15.4">手工参与，确保数据准确性。⑤以总公司为核</tspan><tspan x="1862" dy="15.4">心，以分支机构为扩展。对于大型企业，设有</tspan><tspan x="1862" dy="15.4">较多的分支机构，可先以总部机构为起点和核</tspan><tspan x="1862" dy="15.4">心，满足企业总体层面的宏观管理需求和对全</tspan><tspan x="1862" dy="15.4">系统的整体掌控，便于在短期内形成一批企业</tspan><tspan x="1862" dy="15.4">内系统通用的、有代表性的报表体系，和统一</tspan><tspan x="1862" dy="15.4">的指标体系。在条件成熟的条件下，统计信息</tspan><tspan x="1862" dy="15.4">管理机制较为完善、稳定时，可将统计信息管</tspan><tspan x="1862" dy="15.4">理机制推广至分支机构，推广标准指标体系和</tspan><tspan x="1862" dy="15.4">订制报表格式。</tspan></text></g>
<g id="p5-c7"><text class="t" x="1862" y="4217.4">4统计信息管理机制的主要内容</text></g>
<g id="p5-c8"><text class="t" x="1862" y="4269"><tspan x="1862">建立企业的唯一的统计指标体系，对指标进行</tspan><tspan x="1862" dy="15.4">"三统一"的标准化管理。这是健全统计信息管</tspan><tspan x="1862" dy="15.4">理机制的基础，指标选择、规范定义和未来的</tspan><tspan x="1862" dy="15.4">可扩展性是建立统计指标体系的关键因素。统</tspan><tspan x="1862" dy="15.4">一指标名称，统一指标定义，并统一指标的实</tspan><tspan x="1862" dy="15.4">现逻辑是"三统一"原则的核心内容。"三统一"</tspan><tspan x="1862" dy="15.4">有利于企业对指标的标准化管理，有利于统计</tspan><tspan x="1862" dy="15.4">指标和数据的稳定性，也是统计数据数据质量</tspan><tspan x="1862" dy="15.4">和统计效率的重要保障。</tspan></text></g>
<g id="p5-c9"><text class="t" x="1862" y="4447.4"><tspan x="1862">建立企业的常规统计报表体系，对报表进行分</tspan><tspan x="1862" dy="15.4">级、分类管理。常规统计报表体系可按照层级</tspan><tspan x="1862" dy="15.4">进行分类管理，主要包括以下三级：①KPI报</tspan><tspan x="1862" dy="15.4">表：服务于决策层面，分类别展示企业经营管</tspan><tspan x="1862" dy="15.4">理各层面重要信息，供最高管理层使用。②公</tspan><tspan x="1862" dy="15.4">司级常规报表：服务于决策层面和管理层面，</tspan><tspan x="1862" dy="15.4">分类别、按维度和分支机构展示企业经营管理</tspan><tspan x="1862" dy="15.4">层面的重要信息，供企业最高管理层和部门管</tspan><tspan x="1862" dy="15.4">理者（按需）使用。③部门级常规报表：服务</tspan><tspan x="1862" dy="15.4">于管理层面和事务层面，按需求部门展示企业</tspan><tspan x="1862" dy="15.4">的某一经营管理层面的详细信息，供各个部门</tspan><tspan x="1862" dy="15.4">具体使用。</tspan></text></g>
<g id="p5-c10"><text class="t" x="1862" y="4668.7"><tspan x="1862">搭建统计信息管理系统，对企业内部信息资源</tspan><tspan x="1862" dy="15.4">统一管理。统计信息管理系统是统计信息管理</tspan><tspan x="1862" dy="15.4">机制的物理化、电子化载体，统计信息管理机</tspan><tspan x="1862" dy="15.4">制以统计信息管理系统为依托。统计信息管理</tspan><tspan x="1862" dy="15.4">系统是统计信息管理机制的物理基础，对统计</tspan><tspan x="1862" dy="15.4">信息进行汇总、加工、分析、查询的决策支持</tspan><tspan x="1862" dy="15.4">系统，可实现企业内部统计数据报送、统计报</tspan><tspan x="1862" dy="15.4">表查询、智能报表生成、指标管理和系统管理</tspan><tspan x="1862" dy="15.4">等功能，并可根据企业不同时期的战略重点进</tspan><tspan x="1862" dy="15.4">行功能扩展。统计信息管理系统的建设依托于</tspan><tspan x="1862" dy="15.4">企业的各个运营系统，以保险企业为例，保险</tspan><tspan x="1862" dy="15.4">企业的核心业务处理系统、财务系统等前段运</tspan><tspan x="1862" dy="15.4">营系统都是统计信息管理系统的前端数据源。</tspan><tspan x="1862" dy="15.4">为了确保统计数据的准确性和客观性，应在数</tspan><tspan x="1862" dy="15.4">据加工过程中尽量杜绝手工加工和手工填报。</tspan></text></g>
<g id="p5-c11"><text class="t" x="1862" y="4935.7"><tspan x="1862">建立归口管理制度，对企业的各项统计内容进</tspan><tspan x="1862" dy="15.4">行规范化管理。确立统计信息管理的归口管理</tspan><tspan x="1862" dy="15.4">部门，明确各个职能部门在建立统计指标体系</tspan><tspan x="1862" dy="15.4">、统计报表管理、使用、开发、维护等工作中</tspan><tspan x="1862" dy="15.4">的职责，规范归口管理工作的各项流程，使统</tspan><tspan x="1862" dy="15.4">计信息管理的功能得到充分发挥。</tspan></text></g>
<g id="p5-c12"><text class="t" x="1862" y="5065.8">5保险公司建立统计信息管理机制的应用</text></g>
<g id="p5-c13"><text class="t" x="1862" y="5119.2"><tspan x="1862">国内的大型保险公司分支机构多，数据量大，</tspan><tspan x="1862" dy="15.4">数据形式复杂，且由于市场竞争的激烈程度较</tspan><tspan x="1862" dy="15.4">高，造成保险公司统计指标范围广、类别多、</tspan><tspan x="1862" dy="15.4">数量大，且指标和报表的变动性较强。因此在</tspan><tspan x="1862" dy="15.4">保险公司建立健全统计信息管理机制非常必要</tspan><tspan x="1862" dy="15.4">，也存在重重困难。以国内某大型保险公司为</tspan><tspan x="1862" dy="15.4">例，该公司的统计信息体系极为庞大，其中各</tspan><tspan x="1862" dy="15.4">部门的统计报表需求近500张，统计指标需求</tspan><tspan x="1862" dy="15.4">近2000个，无论在统计需求整理，还是在统</tspan><tspan x="1862" dy="15.4">计需求实现过程中，都有较多困难。庞大的系</tspan><tspan x="1862" dy="15.4">统建设问题和保险公司运营系统的复杂性都给</tspan><tspan x="1862" dy="15.4">建立统计信息管理机制造成较多困难。经过多</tspan><tspan x="1862" dy="15.4">年的探索和实践，该公司已建立起规范的统计</tspan><tspan x="1862" dy="15.4">信息管理机制，包括搭建统计信息管理平台，</tspan><tspan x="1862" dy="15.4">建立统计报表体系，整理公司的统计指标体系</tspan><tspan x="1862" dy="15.4">，梳理统计指标实现逻辑，建立统计信息归口</tspan><tspan x="1862" dy="15.4">管理制度等。完善的统计信息管理平台需具备</tspan><tspan x="1862" dy="15.4">可拓展的功能，具有智能查询的功能将大大提</tspan><tspan x="1862" dy="15.4">高系统可用性，并降低后期开发的成本。只有</tspan><tspan x="1862" dy="15.4">企业足够重视并正确认识统计信息的重要作用</tspan><tspan x="1862" dy="15.4">，才能有利于统计信息管理机制的建立、健全</tspan><tspan x="1862" dy="15.4">和完善。</tspan></text></g>
</g>
</svg>
